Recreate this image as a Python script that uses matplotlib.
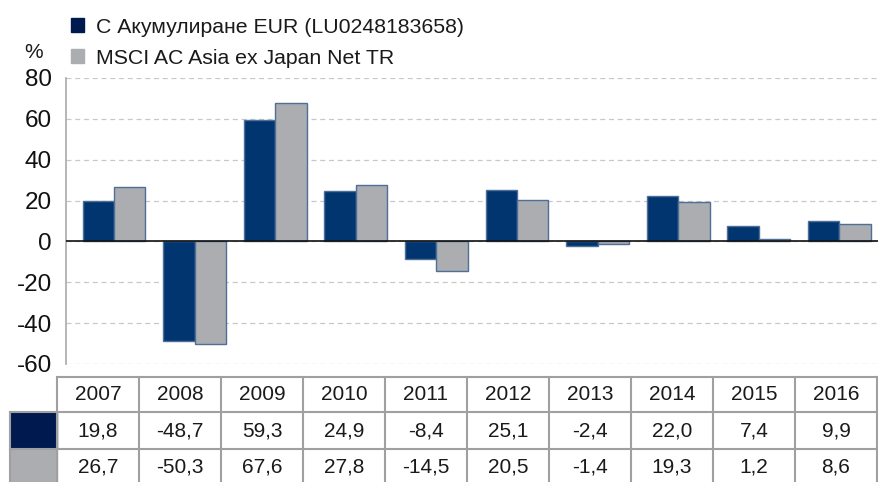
import matplotlib
matplotlib.use("Agg")
import matplotlib.pyplot as plt
from matplotlib.patches import Rectangle
import numpy as np

plt.rcParams['font.family'] = ['Liberation Sans', 'DejaVu Sans']

years = ['2007', '2008', '2009', '2010', '2011', '2012', '2013', '2014', '2015', '2016']
fund = [19.8, -48.7, 59.3, 24.9, -8.4, 25.1, -2.4, 22.0, 7.4, 9.9]
index = [26.7, -50.3, 67.6, 27.8, -14.5, 20.5, -1.4, 19.3, 1.2, 8.6]
fund_label = 'С Акумулиране EUR (LU0248183658)'
index_label = 'MSCI AC Asia ex Japan Net TR'
fund_txt = ['19,8', '-48,7', '59,3', '24,9', '-8,4', '25,1', '-2,4', '22,0', '7,4', '9,9']
index_txt = ['26,7', '-50,3', '67,6', '27,8', '-14,5', '20,5', '-1,4', '19,3', '1,2', '8,6']

W, H = 879, 482
fig = plt.figure(figsize=(W / 100, H / 100), dpi=100)

dark = '#00356F'
grey = '#ABADB1'
edge = '#4F6F98'
swatch_dark = '#001A4F'
txt_col = '#1a1a1a'

# main axes: left 65.7px, right 879px, top y=78 (80), bottom y=364 (-60)
ax = fig.add_axes([65.7 / W, 1 - 364 / H, (879 - 65.7) / W, (364 - 78) / H])
x = np.arange(len(years))
bw = 0.39
ax.bar(x - bw / 2, fund, bw, color=dark, edgecolor=edge, linewidth=1.0, zorder=3)
ax.bar(x + bw / 2, index, bw, color=grey, edgecolor=edge, linewidth=1.0, zorder=3)
ax.set_ylim(-60, 80)
ax.set_xlim(-0.599, 9.49)
ax.set_yticks(np.arange(-60, 81, 20))
ax.set_yticklabels([str(v) for v in range(-60, 81, 20)], fontsize=17.5, color='#111111')
ax.set_xticks([])
ax.yaxis.grid(True, linestyle=(0, (4, 3)), color='#C8C8C8', linewidth=0.9, zorder=0)
ax.axhline(0, color='#111111', linewidth=1.2, zorder=4)
for s in ['top', 'right', 'bottom']:
    ax.spines[s].set_visible(False)
ax.spines['left'].set_color('#B0B0B0')
ax.spines['left'].set_linewidth(1.3)
ax.tick_params(axis='y', length=0, pad=9.8)

# y unit label
fig.text(24 / W, 1 - 58 / H, '%', fontsize=15, va='baseline', ha='left', color=txt_col)

# legend
for i, (lbl, col) in enumerate([(fund_label, swatch_dark), (index_label, grey)]):
    yc = 25 + i * 31
    fig.patches.append(Rectangle((71 / W, 1 - (yc + 6.5) / H), 13 / W, 13 / H,
                                 transform=fig.transFigure, color=col))
    fig.text(96 / W, 1 - (yc + 8.3) / H, lbl, fontsize=15.3, va='baseline', ha='left', color=txt_col)

# table
tax = fig.add_axes([0, 0, 1, 1])
tax.set_xlim(0, W)
tax.set_ylim(H, 0)
tax.axis('off')
tl, tr = 57, 877
cw = (tr - tl) / len(years)
rows_y = [376.7, 411.7, 449.3, 487]
lc = '#A0A0A0'
tax.add_patch(Rectangle((10, rows_y[1]), tl - 10, rows_y[2] - rows_y[1], color=swatch_dark, zorder=1))
tax.add_patch(Rectangle((10, rows_y[2]), tl - 10, rows_y[3] - rows_y[2], color=grey, zorder=1))
tax.plot([tl, tr], [rows_y[0]] * 2, color=lc, lw=1.5, zorder=2)
tax.plot([10, tr], [rows_y[1]] * 2, color=lc, lw=1.5, zorder=2)
tax.plot([10, tr], [rows_y[2]] * 2, color=lc, lw=1.5, zorder=2)
for k in range(len(years) + 1):
    xx = tl + k * cw
    tax.plot([xx, xx], [rows_y[0], H], color=lc, lw=1.5, zorder=2)
tax.plot([10, 10], [rows_y[1], H], color=lc, lw=1.5, zorder=2)
for k in range(len(years)):
    xc = tl + (k + 0.5) * cw
    tax.text(xc, 395, years[k], ha='center', va='center', fontsize=15, color=txt_col)
    tax.text(xc, 431, fund_txt[k], ha='center', va='center', fontsize=15, color=txt_col)
    tax.text(xc, 467, index_txt[k], ha='center', va='center', fontsize=15, color=txt_col)

fig.savefig('out.png', dpi=100)
